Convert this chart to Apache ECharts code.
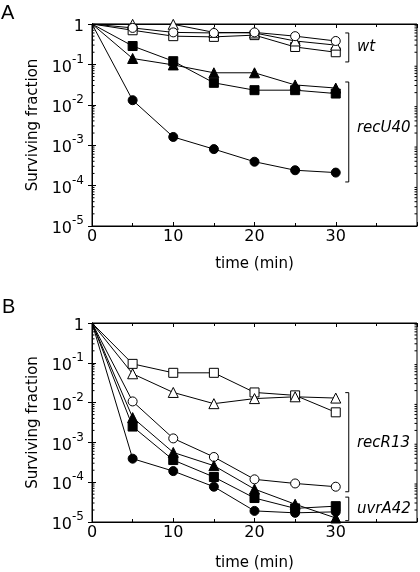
<!DOCTYPE html>
<html><head><meta charset="utf-8">
<script src="https://cdn.jsdelivr.net/npm/echarts@6/dist/echarts.min.js"></script>
<style>html,body{margin:0;padding:0;background:#fff}#c{width:420px;height:572px}</style>
</head><body><div id="c"></div>
<script>
// ---- data ----
const time = [0, 5, 10, 15, 20, 25, 30];
// Panel A
const aWtOpenCircle   = [1, 0.8, 0.62, 0.6, 0.62, 0.5, 0.38];
const aWtOpenTriangle = [1, 0.98, 0.98, 0.62, 0.6, 0.38, 0.3];
const aWtOpenSquare   = [1, 0.7, 0.5, 0.48, 0.53, 0.27, 0.2];
const aRecFilledSquare   = [1, 0.285, 0.12, 0.035, 0.023, 0.023, 0.019];
const aRecFilledTriangle = [1, 0.14, 0.097, 0.062, 0.062, 0.031, 0.026];
const aRecFilledCircle   = [1, 0.013, 0.0016, 0.0008, 0.00039, 0.00024, 0.00021];
// Panel B
const bOpenSquare    = [1, 0.094, 0.056, 0.056, 0.018, 0.0152, 0.0057];
const bOpenTriangle  = [1, 0.053, 0.018, 0.0094, 0.0126, 0.014, 0.013];
const bOpenCircle    = [1, 0.0107, 0.00126, 0.00043, 0.000118, 0.000093, 0.000077];
const bFilledTriangle = [1, 0.0042, 0.00056, 0.00026, 0.000067, 0.000028, 0.0000126];
const bFilledSquare   = [1, 0.0025, 0.00036, 0.000135, 0.00004, 0.000022, 0.000025];
const bFilledCircle   = [1, 0.00039, 0.00019, 0.000077, 0.000019, 0.000017, 0.000018];
// group brackets: [x, yTop, yBottom, labelX, labelY]
const bracketLabelsA = ['wt', 'recU40'];
const bracketsA = [[31.6, 0.6, 0.115, 32.6, 0.27], [31.6, 0.0367, 0.000123, 32.6, 0.0027]];
const bracketLabelsB = ['recR13', 'uvrA42'];
const bracketsB = [[31.6, 0.0178, 0.0000575, 32.6, 0.00095], [31.6, 0.0000422, 0.0000108, 32.6, 0.000021]];
const xTickLabels = ['0', '10', '20', '30'];

const FONT = 'DejaVu Sans';
const chart = echarts.init(document.getElementById('c'));

// log minor tick values (axis decoration)
const minorVals = [];
for (let k = -5; k < 0; k++) for (let m = 2; m <= 9; m++) minorVals.push(m * Math.pow(10, k));

function yLabel(v) {
  const e = Math.round(Math.log10(v));
  return e === 0 ? '{b|1}' : '{b|10}{s|' + e + '}';
}

function grid(top, h) {
  return { left: 92, top: top, width: 327, height: h, show: true, borderColor: '#000', borderWidth: 1, backgroundColor: 'transparent' };
}
function xBottom(gi, gap) {
  return {
    type: 'value', gridIndex: gi, min: 0, max: 40, interval: 10, position: 'bottom',
    axisLine: { lineStyle: { color: '#000', width: 1 } },
    axisTick: { inside: true, length: 4, lineStyle: { color: '#000' } },
    minorTick: { show: true, splitNumber: 2, length: 3, lineStyle: { color: '#000' } },
    splitLine: { show: false },
    axisLabel: { margin: 3, fontFamily: FONT, fontSize: 16, color: '#000',
      formatter: v => { const i = v / 10; return i < xTickLabels.length ? xTickLabels[i] : ''; } },
    name: 'time (min)', nameLocation: 'middle', nameGap: gap,
    nameTextStyle: { fontFamily: FONT, fontSize: 15, color: '#000' }
  };
}
function xTop(gi) {
  return {
    type: 'value', gridIndex: gi, min: 0, max: 40, interval: 10, position: 'top',
    axisLine: { lineStyle: { color: '#000', width: 1 } },
    axisTick: { inside: true, length: 4, lineStyle: { color: '#000' } },
    minorTick: { show: true, splitNumber: 2, length: 3, lineStyle: { color: '#000' } },
    splitLine: { show: false }, axisLabel: { show: false }
  };
}
function yLeft(gi) {
  return {
    type: 'log', logBase: 10, gridIndex: gi, min: 0.00001, max: 1, position: 'left',
    axisLine: { lineStyle: { color: '#000', width: 1 } },
    axisTick: { inside: true, length: 4, lineStyle: { color: '#000' } },
    splitLine: { show: false },
    axisLabel: { margin: 8, color: '#000', formatter: yLabel,
      rich: {
        b: { fontFamily: FONT, fontSize: 16, color: '#000', lineHeight: 22, verticalAlign: 'bottom' },
        s: { fontFamily: FONT, fontSize: 12, color: '#000', lineHeight: 12, verticalAlign: 'top' }
      } },
    name: 'Surviving fraction', nameLocation: 'middle', nameGap: 51, nameRotate: 90,
    nameTextStyle: { fontFamily: FONT, fontSize: 15, color: '#000' }
  };
}
function yRight(gi) {
  return {
    type: 'log', logBase: 10, gridIndex: gi, min: 0.00001, max: 1, position: 'right',
    axisLine: { lineStyle: { color: '#000', width: 1 } },
    axisTick: { inside: true, length: 4, lineStyle: { color: '#000' } },
    splitLine: { show: false }, axisLabel: { show: false }
  };
}

function series(vals, symbol, filled, xi, yi) {
  return {
    type: 'line', xAxisIndex: xi, yAxisIndex: yi,
    data: time.map((t, i) => i === 0 ? { value: [t, vals[i]], symbol: 'none' } : [t, vals[i]]),
    symbol: symbol, symbolSize: symbol === 'triangle' ? 10 : 9, showAllSymbol: true,
    lineStyle: { color: '#000', width: 1 },
    itemStyle: { color: filled ? '#000' : '#fff', borderColor: '#000', borderWidth: 1 },
    emphasis: { disabled: true }, animation: false, z: 3
  };
}

function minorTickSeries(xi, yi) {
  return {
    type: 'custom', xAxisIndex: xi, yAxisIndex: yi, clip: false, silent: true, animation: false, z: 2,
    data: minorVals.map(v => [0, v]),
    renderItem: (params, api) => {
      const v = api.value(1);
      const l = api.coord([0, v]);
      const r = api.coord([40, v]);
      return { type: 'group', children: [
        { type: 'line', shape: { x1: l[0], y1: l[1], x2: l[0] + 2.5, y2: l[1] }, style: { stroke: '#000', lineWidth: 1 } },
        { type: 'line', shape: { x1: r[0], y1: r[1], x2: r[0] - 2.5, y2: r[1] }, style: { stroke: '#000', lineWidth: 1 } }
      ] };
    }
  };
}

function bracketSeries(brs, labels, xi, yi) {
  return {
    type: 'custom', xAxisIndex: xi, yAxisIndex: yi, clip: false, silent: true, animation: false, z: 4,
    data: brs.map((b, i) => ({ value: b.concat([i]) })),
    renderItem: (params, api) => {
      const x = api.value(0);
      const p1 = api.coord([x, api.value(1)]);
      const p2 = api.coord([x, api.value(2)]);
      const pl = api.coord([api.value(3), api.value(4)]);
      return { type: 'group', children: [
        { type: 'polyline', shape: { points: [[p1[0] - 3.5, p1[1]], [p1[0], p1[1]], [p2[0], p2[1]], [p2[0] - 3.5, p2[1]]] },
          style: { stroke: '#000', lineWidth: 1, fill: null } },
        { type: 'text', x: pl[0], y: pl[1],
          style: { text: labels[api.value(5)], fontFamily: FONT, fontSize: 15, fontStyle: 'italic', fill: '#000',
                   verticalAlign: 'middle', align: 'left' } }
      ] };
    }
  };
}

chart.setOption({
  animation: false,
  backgroundColor: '#fff',
  grid: [grid(24, 202), grid(323, 200)],
  xAxis: [xBottom(0, 31), xTop(0), xBottom(1, 34), xTop(1)],
  yAxis: [yLeft(0), yRight(0), yLeft(1), yRight(1)],
  graphic: [
    { type: 'text', left: 1, top: 3, style: { text: 'A', fontFamily: 'Liberation Sans', fontSize: 20, fill: '#000' } },
    { type: 'text', left: 2, top: 297, style: { text: 'B', fontFamily: 'Liberation Sans', fontSize: 20, fill: '#000' } }
  ],
  series: [
    minorTickSeries(0, 0), minorTickSeries(2, 2),
    series(aWtOpenSquare, 'rect', false, 0, 0),
    series(aWtOpenTriangle, 'triangle', false, 0, 0),
    series(aWtOpenCircle, 'circle', false, 0, 0),
    series(aRecFilledSquare, 'rect', true, 0, 0),
    series(aRecFilledTriangle, 'triangle', true, 0, 0),
    series(aRecFilledCircle, 'circle', true, 0, 0),
    series(bOpenSquare, 'rect', false, 2, 2),
    series(bOpenTriangle, 'triangle', false, 2, 2),
    series(bOpenCircle, 'circle', false, 2, 2),
    series(bFilledTriangle, 'triangle', true, 2, 2),
    series(bFilledSquare, 'rect', true, 2, 2),
    series(bFilledCircle, 'circle', true, 2, 2),
    bracketSeries(bracketsA, bracketLabelsA, 0, 0),
    bracketSeries(bracketsB, bracketLabelsB, 2, 2)
  ]
});
</script>
</body></html>
